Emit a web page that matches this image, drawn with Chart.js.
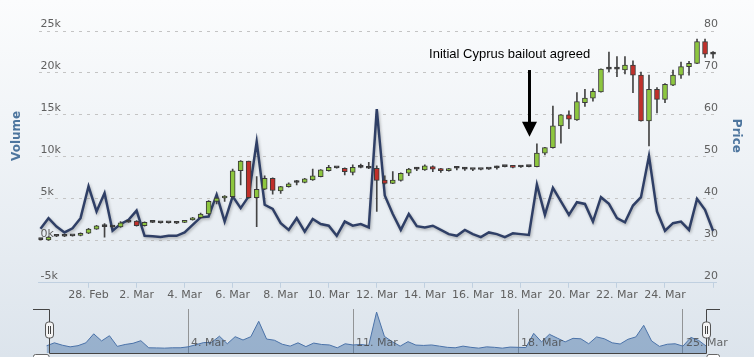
<!DOCTYPE html>
<html><head><meta charset="utf-8">
<script src="https://cdn.jsdelivr.net/npm/chart.js@4/dist/chart.umd.min.js"></script>
<style>
html,body{margin:0;padding:0;}
body{width:754px;height:357px;overflow:hidden;position:relative;background:linear-gradient(to bottom,#fbfcfd 0%,#eef2f6 45%,#dce4ec 100%);}
canvas{position:absolute;left:0;}
#main{top:0;}
#nav{top:300px;}
</style></head><body>
<canvas id="main" width="754" height="310"></canvas>
<canvas id="nav" width="754" height="57"></canvas>
<script>
// ---- categories (8-hour sessions, 26 Feb 00:00 .. 26 Mar 00:00) ----
const dayLabels = ['26 Feb','27 Feb','28 Feb','1 Mar','2 Mar','3 Mar','4 Mar','5 Mar','6 Mar','7 Mar','8 Mar','9 Mar','10 Mar','11 Mar','12 Mar','13 Mar','14 Mar','15 Mar','16 Mar','17 Mar','18 Mar','19 Mar','20 Mar','21 Mar','22 Mar','23 Mar','24 Mar','25 Mar','26 Mar'];
const sessions = ['00:00','08:00','16:00'];
const categories = [];
dayLabels.forEach((d, k) => sessions.forEach(s => { if (k < dayLabels.length - 1 || s === '00:00') categories.push(d + ' ' + s); }));

// ---- price (OHLC) ----
const priceOpen  = [30.3,30.2,31.1,31.1,31.2,31.3,31.8,32.8,33.5,33.3,33.3,34.45,34.7,33.6,34.4,34.3,34.3,34.2,34.4,35.0,35.5,36.4,39.4,40.2,40.5,46.7,49.0,40.3,42.3,44.9,41.9,42.9,43.9,43.9,44.5,45.3,46.7,47.4,47.3,46.3,47.5,47.3,47.3,44.5,43.7,44.4,46.1,47.1,46.9,47.7,47.2,46.7,47.3,47.1,47.0,47.0,47.1,47.4,47.7,47.8,47.6,47.7,47.7,50.9,52.2,57.4,60.0,58.8,62.9,64.0,65.5,70.9,70.9,70.7,71.9,69.5,58.6,66.1,63.7,67.1,69.5,71.5,72.3,77.5,74.5];
const priceHigh  = [30.5,31.0,31.2,31.2,31.3,31.9,33.0,33.7,34.1,33.4,34.6,34.5,34.8,34.5,34.5,34.4,34.4,34.3,34.9,35.6,36.6,39.6,40.3,40.8,47.1,49.1,49.0,45.3,45.5,45.0,43.0,43.8,44.4,44.9,47.1,47.0,48.0,47.5,47.4,48.1,48.3,48.7,47.9,45.5,46.5,46.2,47.3,47.5,48.1,47.9,47.3,47.3,47.7,47.5,47.1,47.1,47.2,47.8,47.8,47.9,47.9,47.8,53.1,52.3,62.1,60.1,61.0,65.3,66.1,66.2,71.0,75.0,73.9,73.9,72.9,70.2,69.5,66.5,67.5,70.7,72.6,72.8,78.1,78.1,75.1];
const priceLow   = [30.2,30.1,31.0,31.0,31.1,31.2,31.7,32.7,30.9,33.2,33.2,34.4,33.5,33.5,34.3,34.2,34.2,34.1,34.3,34.9,35.4,36.3,38.8,39.4,40.3,43.3,40.2,33.4,42.2,41.1,41.3,42.8,43.3,43.8,44.4,45.2,46.6,47.3,45.7,45.7,47.4,47.2,37.0,43.5,43.6,44.2,45.5,46.7,46.8,46.5,46.3,46.6,46.9,46.8,46.7,46.9,47.0,47.1,47.6,47.4,47.5,47.6,47.6,50.5,52.1,53.3,56.7,58.7,62.0,63.3,65.4,70.3,69.1,69.8,65.3,58.5,52.6,60.5,62.9,67.0,68.7,69.5,72.2,73.7,73.5];
const priceClose = [30.3,30.9,31.1,31.1,31.2,31.8,32.8,33.6,33.4,33.3,34.3,34.45,33.6,34.4,34.4,34.3,34.3,34.2,34.8,35.5,36.4,39.4,40.2,40.5,46.7,49.0,40.3,42.3,44.9,42.0,42.9,43.6,43.9,44.8,45.5,46.9,47.5,47.4,46.5,47.5,47.5,47.3,44.4,43.7,44.5,46.1,47.1,47.1,47.9,47.1,46.7,47.2,47.3,47.1,47.0,47.0,47.1,47.4,47.7,47.5,47.6,47.7,50.9,52.2,57.4,60.0,59.0,63.2,64.0,65.6,70.9,71.0,70.9,71.9,69.5,58.6,66.1,63.7,67.3,69.5,71.5,72.3,77.5,74.5,74.5];

// ---- volume ----
const volume = [1450,2700,1700,1000,1500,2700,6500,3500,5700,1200,2000,2500,3600,600,550,450,600,600,1000,1900,2800,2900,5500,2300,5300,3900,5300,11800,4300,3800,2100,1300,2700,1100,2600,2000,1800,600,2300,1800,2000,1600,15700,5400,3200,1300,3200,1750,1600,1800,1300,800,600,1300,800,450,1000,800,450,900,800,700,6700,3100,6300,4700,3100,4600,4400,2300,5200,4400,2700,2200,4200,5200,10100,3500,1200,2100,2300,1300,5000,3700,1200];

// ---- axes / ticks ----
const xTickCategories = ['28 Feb 00:00','2 Mar 00:00','4 Mar 00:00','6 Mar 00:00','8 Mar 00:00','10 Mar 00:00','12 Mar 00:00','14 Mar 00:00','16 Mar 00:00','18 Mar 00:00','20 Mar 00:00','22 Mar 00:00','24 Mar 00:00','26 Mar 00:00'];
const xTickLabels = ['28. Feb','2. Mar','4. Mar','6. Mar','8. Mar','10. Mar','12. Mar','14. Mar','16. Mar','18. Mar','20. Mar','22. Mar','24. Mar',''];
const navTickCategories = ['4 Mar 00:00','11 Mar 00:00','18 Mar 00:00','25 Mar 00:00'];
const navTickLabels = ['4. Mar','11. Mar','18. Mar','25. Mar'];
const volumeAxisTitle = 'Volume';
const priceAxisTitle = 'Price';

// ---- annotation ----
const annotationText = 'Initial Cyprus bailout agreed';
const annotationAt = '18 Mar 08:00';
const annotationTipPrice = 54.8;
const annotationTailPrice = 70.7;
const annotationTextPrice = 74.3;
const annotationTextShift = -2.4; // in sessions

const FONT = '"DejaVu Sans", "Lucida Grande", sans-serif';
const idx = c => categories.indexOf(c);

function bodyColor(i) {
  const d = priceClose[i] - priceOpen[i];
  if (Math.abs(d) < 0.15) return '#333333';
  return d > 0 ? '#8dc63f' : '#c0302b';
}

const shadowPlugin = {
  id: 'lineShadow',
  beforeDatasetDraw(chart, args) {
    if (chart.data.datasets[args.index].shadow) {
      const c = chart.ctx; c.save();
      c.shadowColor = 'rgba(0,0,0,0.28)'; c.shadowBlur = 3; c.shadowOffsetX = 1; c.shadowOffsetY = 1.5;
    }
  },
  afterDatasetDraw(chart, args) {
    if (chart.data.datasets[args.index].shadow) chart.ctx.restore();
  }
};

const decorPlugin = {
  id: 'decor',
  afterDraw(chart) {
    const {ctx, chartArea: a, scales} = chart;
    const x = scales.x, y2 = scales.y2;
    ctx.save();
    // axis titles
    ctx.fillStyle = '#4d759e';
    ctx.font = 'bold 12px ' + FONT;
    ctx.textAlign = 'center'; ctx.textBaseline = 'middle';
    const midY = (a.top + a.bottom) / 2 - 21;
    ctx.save(); ctx.translate(17, midY); ctx.rotate(-Math.PI / 2); ctx.fillText(volumeAxisTitle, 0, 0); ctx.restore();
    ctx.save(); ctx.translate(736, midY); ctx.rotate(Math.PI / 2); ctx.fillText(priceAxisTitle, 0, 0); ctx.restore();
    // annotation
    const ai = idx(annotationAt);
    const px = Math.round(x.getPixelForValue(ai)) + 0.5;
    const tip = y2.getPixelForValue(annotationTipPrice);
    const tail = y2.getPixelForValue(annotationTailPrice);
    ctx.strokeStyle = '#000'; ctx.fillStyle = '#000'; ctx.lineWidth = 3;
    ctx.beginPath(); ctx.moveTo(px, tail); ctx.lineTo(px, tip - 12); ctx.stroke();
    ctx.beginPath(); ctx.moveTo(px - 7.5, tip - 15); ctx.lineTo(px + 7.5, tip - 15); ctx.lineTo(px, tip); ctx.closePath(); ctx.fill();
    ctx.font = '13px "Liberation Sans", Arial, sans-serif';
    ctx.fillText(annotationText, x.getPixelForValue(ai + annotationTextShift), y2.getPixelForValue(annotationTextPrice));
    ctx.restore();
  }
};

const n = categories.length;
new Chart(document.getElementById('main'), {
  data: {
    datasets: [
      { type: 'bar', label: 'body', yAxisID: 'y2', order: 0, grouped: false,
        data: priceOpen.map((o, i) => ({x: i, y: [o, priceClose[i]]})),
        backgroundColor: ctx => bodyColor(ctx.dataIndex),
        borderColor: '#3a3a3a', borderWidth: 1, borderSkipped: false,
        barThickness: 5, minBarLength: 2 },
      { type: 'bar', label: 'wick', yAxisID: 'y2', order: 1, grouped: false,
        data: priceLow.map((l, i) => ({x: i, y: [l, priceHigh[i]]})),
        backgroundColor: '#444', borderWidth: 0, barThickness: 1 },
      { type: 'line', label: 'Volume', yAxisID: 'y', order: 2, shadow: true,
        data: volume.map((v, i) => ({x: i, y: v})),
        borderColor: '#2f3f66', borderWidth: 2.5, pointRadius: 0, tension: 0,
        borderJoinStyle: 'miter', fill: false }
    ]
  },
  options: {
    responsive: false, animation: false, devicePixelRatio: 1,
    layout: { padding: { left: 34.5, right: 34, top: 31, bottom: 7 } },
    plugins: { legend: { display: false }, tooltip: { enabled: false } },
    scales: {
      x: { type: 'linear', min: -0.25, max: 84.37, offset: false,
        afterBuildTicks: s => { s.ticks = xTickCategories.map(c => ({value: idx(c)})); },
        ticks: { autoSkip: false, maxRotation: 0, padding: 1, color: '#606060', font: {family: FONT, size: 11},
          callback: v => xTickLabels[xTickCategories.indexOf(categories[v])] },
        grid: { drawOnChartArea: false, drawTicks: true, tickLength: 5, color: '#c0d0e0', offset: false },
        border: { display: true, color: '#c0d0e0', width: 1 } },
      y: { position: 'left', min: -5000, max: 25000,
        ticks: { stepSize: 5000, mirror: true, padding: 2, labelOffset: -7, color: '#606060', font: {family: FONT, size: 11},
          callback: v => (v / 1000) + 'k' },
        grid: { color: '#c4c4c4', drawTicks: false, lineWidth: 1 },
        border: { display: false, dash: [3, 5] } },
      y2: { position: 'right', min: 20, max: 80,
        ticks: { stepSize: 10, mirror: true, padding: 2, labelOffset: -7, color: '#606060', font: {family: FONT, size: 11} },
        grid: { display: false, drawTicks: false },
        border: { display: false } }
    }
  },
  plugins: [shadowPlugin, decorPlugin]
});

// ---- navigator ----
const navDecor = {
  id: 'navDecor',
  afterDraw(chart) {
    const {ctx, chartArea: a, scales: {x}} = chart;
    ctx.save();
    // labels
    ctx.fillStyle = 'rgba(70,70,70,0.8)'; ctx.font = '11px ' + FONT;
    ctx.textAlign = 'left'; ctx.textBaseline = 'middle';
    navTickCategories.forEach((c, k) => ctx.fillText(navTickLabels[k], x.getPixelForValue(idx(c)) + 3, a.bottom - 9.5));
    // outline
    const h0 = Math.round(x.getPixelForValue(0)) + 2.5;
    const h1 = Math.round(x.getPixelForValue(n - 1)) - 0.5;
    ctx.strokeStyle = '#444'; ctx.lineWidth = 1;
    ctx.beginPath();
    ctx.moveTo(a.left, a.top + 0.5); ctx.lineTo(h0, a.top + 0.5); ctx.lineTo(h0, a.bottom + 0.5);
    ctx.lineTo(h1, a.bottom + 0.5); ctx.lineTo(h1, a.top + 0.5); ctx.lineTo(a.right, a.top + 0.5);
    ctx.stroke();
    // scrollbar buttons (partly visible)
    ctx.fillStyle = '#ffffff'; ctx.strokeStyle = '#666';
    [[a.left + 0.5, h0 - a.left - 1], [h1 + 0.5, a.right - h1 - 1]].forEach(([bx, bw]) => {
      ctx.beginPath(); ctx.roundRect(bx, a.bottom + 1.5, bw, 10, 2); ctx.fill(); ctx.stroke();
    });
    // handles
    const cy = (a.top + a.bottom) / 2 - 1;
    [h0, h1].forEach(hx => {
      ctx.fillStyle = '#f4f4f4'; ctx.strokeStyle = '#555';
      ctx.beginPath(); ctx.roundRect(hx - 4, cy - 8, 8, 16, 3); ctx.fill(); ctx.stroke();
      ctx.strokeStyle = '#444';
      ctx.beginPath(); ctx.moveTo(hx - 1, cy - 4); ctx.lineTo(hx - 1, cy + 4); ctx.moveTo(hx + 1, cy - 4); ctx.lineTo(hx + 1, cy + 4); ctx.stroke();
    });
    ctx.restore();
  }
};

new Chart(document.getElementById('nav'), {
  type: 'line',
  data: { datasets: [{ data: volume.map((v, i) => ({x: i, y: v})),
    borderColor: '#4a72a8', borderWidth: 1, backgroundColor: 'rgba(69,114,167,0.45)',
    fill: 'start', pointRadius: 0, tension: 0 }] },
  options: {
    responsive: false, animation: false, devicePixelRatio: 1,
    layout: { padding: { left: 33, right: 34, top: 9, bottom: 4 } },
    plugins: { legend: { display: false }, tooltip: { enabled: false } },
    scales: {
      x: { type: 'linear', min: -1.73, max: 85.71,
        afterBuildTicks: s => { s.ticks = navTickCategories.map(c => ({value: idx(c)})); },
        ticks: { display: false },
        grid: { color: 'rgba(120,120,120,0.75)', drawTicks: false },
        border: { display: false } },
      y: { display: false, min: -1600, max: 17000 }
    }
  },
  plugins: [navDecor]
});
</script>
</body></html>
